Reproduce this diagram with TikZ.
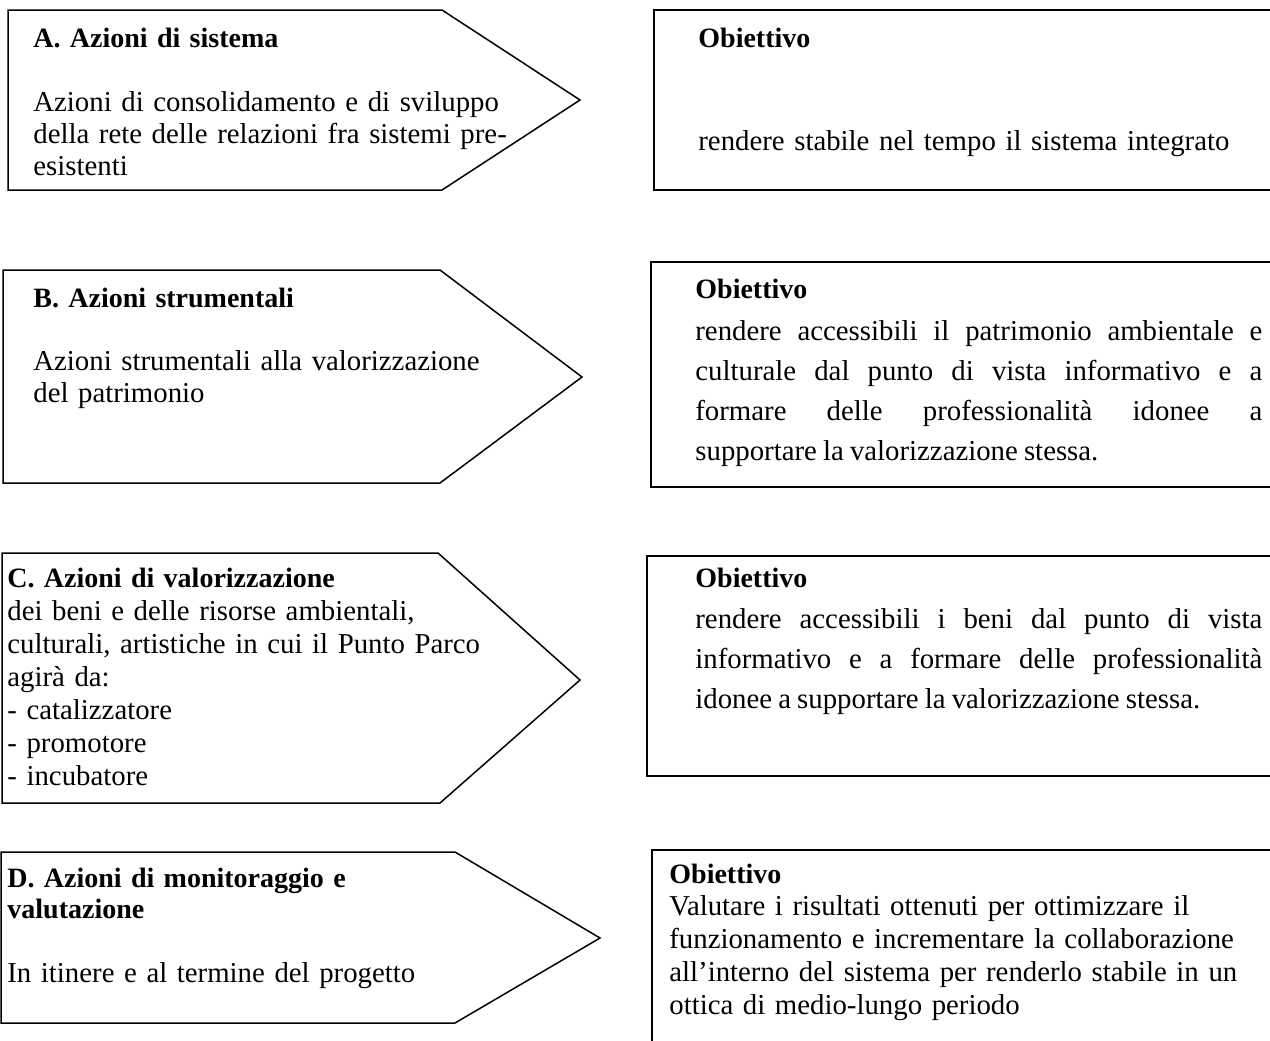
\documentclass[tikz,border=0pt]{standalone}
\usepackage{fontspec}
\setmainfont[WordSpace=0.85]{Liberation Serif}
\begin{document}
\begin{tikzpicture}[x=0.5pt,y=-0.5pt,
  shp/.style={draw=black,line width=0.75pt,line join=miter},
  txt/.style={anchor=base west,inner sep=0pt,align=left,font=\fontsize{14.4}{16}\selectfont},
  jtxt/.style={anchor=base west,inner sep=0pt,align=justify,text width=283.5pt,font=\fontsize{14.4}{20}\selectfont},
  hd/.style={txt,font=\fontsize{14}{16}\selectfont\bfseries}]
\useasboundingbox (0,0) rectangle (1270,1040);
\clip (0,0) rectangle (1270,1040);
\fill[white] (0,0) rectangle (1270,1040);
% left pentagon arrows
\draw[shp] (8,10) -- (442,10) -- (580,100) -- (442,190) -- (8,190) -- cycle;
\draw[shp] (3,270) -- (440,270) -- (582,377) -- (440,483) -- (3,483) -- cycle;
\draw[shp] (2,553) -- (438,553) -- (580,680) -- (440,803) -- (2,803) -- cycle;
\draw[shp] (1,852) -- (455,852) -- (600,938) -- (455,1023) -- (1,1023) -- cycle;
% right boxes
\draw[shp] (654,10) rectangle (1280,190);
\draw[shp] (651,262) rectangle (1280,487);
\draw[shp] (647,556) rectangle (1280,776);
\draw[shp] (652,850) rectangle (1280,1060);
% texts A
\node[hd,text width=270pt] (aH) at (33,47) {A. Azioni di sistema};
\node[txt,text width=270pt] (aB) at (33,111) {Azioni di consolidamento e di sviluppo\\della rete delle relazioni fra sistemi pre-\\esistenti};
% B
\node[hd,text width=270pt] (bH) at (33,307) {B. Azioni strumentali};
\node[txt,text width=270pt] (bB) at (33,370) {Azioni strumentali alla valorizzazione\\del patrimonio};
% C
\node[hd,text width=270pt] (cH) at (7,587) {C. Azioni di valorizzazione};
\node[txt,text width=270pt,font=\fontsize{14.4}{16.5}\selectfont] (cB) at (7,620) {dei beni e delle risorse ambientali,\\culturali, artistiche in cui il Punto Parco\\agirà da:\\- catalizzatore\\- promotore\\- incubatore};
% D
\node[hd,text width=270pt,font=\fontsize{14}{15.5}\selectfont\bfseries] (dH) at (7,887) {D. Azioni di monitoraggio e\\valutazione};
\node[txt,text width=270pt] (dB) at (7,982) {In itinere e al termine del progetto};
% right 1
\node[hd,text width=280pt] (o1H) at (698,47) {Obiettivo};
\node[txt,text width=300pt] (o1B) at (698,150) {rendere stabile nel tempo il sistema integrato};
% right 2
\node[hd,text width=280pt] (o2H) at (695,298) {Obiettivo};
\node[jtxt] (o2B) at (695,340) {rendere accessibili il patrimonio ambientale e\linebreak culturale dal punto di vista informativo e a\linebreak formare delle professionalità idonee a\linebreak supportare la valorizzazione stessa.};
% right 3
\node[hd,text width=280pt] (o3H) at (695,587) {Obiettivo};
\node[jtxt] (o3B) at (695,628) {rendere accessibili i beni dal punto di vista\linebreak informativo e a formare delle professionalità\linebreak idonee a supportare la valorizzazione stessa.};
% right 4
\node[hd,text width=280pt] (o4H) at (669,883) {Obiettivo};
\node[txt,text width=300pt,font=\fontsize{14.4}{16.5}\selectfont] (o4B) at (669,915) {Valutare i risultati ottenuti per ottimizzare il\\funzionamento e incrementare la collaborazione\\all’interno del sistema per renderlo stabile in un\\ottica di medio-lungo periodo};
\end{tikzpicture}
\end{document}
